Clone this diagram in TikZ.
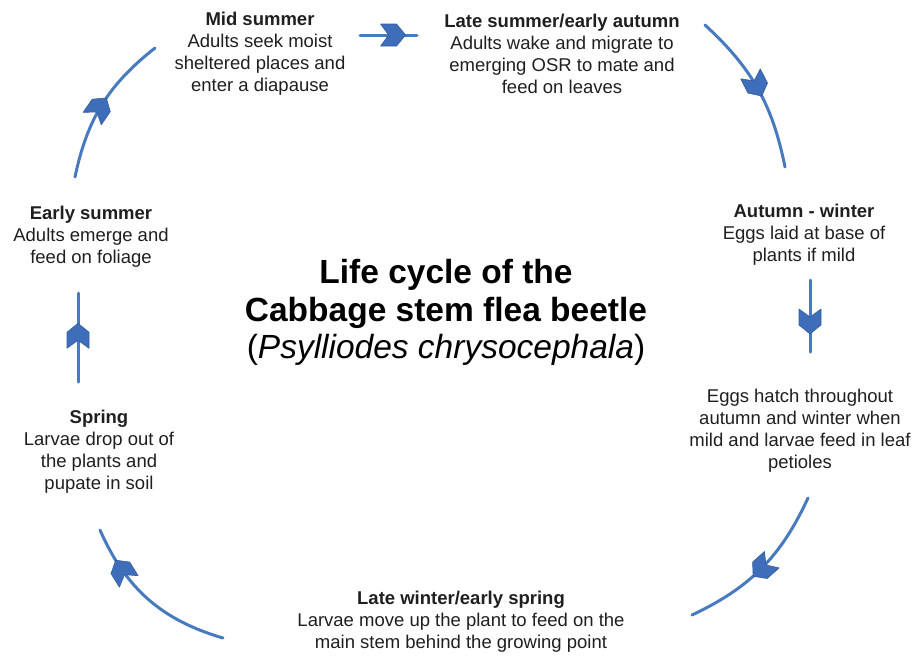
\documentclass[tikz,border=0pt]{standalone}
\usepackage{fontspec}
\setmainfont{Liberation Sans}
\usetikzlibrary{decorations.markings}
\definecolor{lineblue}{RGB}{72,122,192}
\definecolor{headblue}{RGB}{62,110,186}
\tikzset{
  txt/.style={align=center, inner sep=0pt, font=\fontsize{18.5}{22}\selectfont, text=black!88},
  ttl/.style={align=center, inner sep=0pt, text=black},
  flow/.style={draw=lineblue, line width=3pt, line cap=round, postaction={decorate},
    decoration={markings, mark=at position #1 with {\fill[headblue, draw=headblue!85!black, line width=0.6pt, line join=round] (0pt,0pt) -- (-9pt,11pt) -- (-25pt,11pt) -- (-17pt,0pt) -- (-25pt,-11pt) -- (-9pt,-11pt) -- cycle;}}},
}
\begin{document}
\begin{tikzpicture}[x=1pt,y=1pt]
\useasboundingbox (0,0) rectangle (916,-657);
% text blocks
\node[txt] (mid) at (260,-53.5) {\textbf{Mid summer}\\Adults seek moist\\sheltered places and\\enter a diapause};
\node[txt] (late) at (562,-53.5) {\textbf{Late summer/early autumn}\\Adults wake and migrate to\\emerging OSR to mate and\\feed on leaves};
\node[txt] (aut) at (804,-234.5) {\textbf{Autumn - winter}\\Eggs laid at base of\\plants if mild};
\node[txt] (eggs) at (800,-430.5) {Eggs hatch throughout\\autumn and winter when\\mild and larvae feed in leaf\\petioles};
\node[txt] (lwin) at (461,-621.5) {\textbf{Late winter/early spring}\\Larvae move up the plant to feed on the\\main stem behind the growing point};
\node[txt] (spr) at (99,-452) {\textbf{Spring}\\Larvae drop out of\\the plants and\\pupate in soil};
\node[txt] (esum) at (91,-236.5) {\textbf{Early summer}\\Adults emerge and\\feed on foliage};
\node[ttl, font=\fontsize{33.5}{37.5}\selectfont] (title) at (446,-312.5) {\textbf{Life cycle of the}\\\textbf{Cabbage stem flea beetle}\\(\textit{Psylliodes chrysocephala})};
% arrow end points
\coordinate (a1s) at (360,-35);  \coordinate (a1e) at (417,-35);
\coordinate (a2s) at (705,-25);  \coordinate (a2e) at (785,-167);
\coordinate (a3s) at (810,-280); \coordinate (a3e) at (810,-352);
\coordinate (a4s) at (808,-498); \coordinate (a4e) at (692,-615);
\coordinate (a5s) at (223,-638); \coordinate (a5e) at (100,-530);
\coordinate (a6s) at (78,-382);  \coordinate (a6e) at (78,-293);
\coordinate (a7s) at (75,-177);  \coordinate (a7e) at (155,-48);
% arrows
\draw[flow=0.80] (a1s) -- (a1e);
\draw[flow=0.55] (a2s) to[bend left=18] (a2e);
\draw[flow=0.75] (a3s) -- (a3e);
\draw[flow=0.57] (a4s) to[bend left=20] (a4e);
\draw[flow=0.80] (a5s) to[bend left=25] (a5e);
\draw[flow=0.66] (a6s) -- (a6e);
\draw[flow=0.55] (a7s) to[bend left=20] (a7e);
\end{tikzpicture}
\end{document}
